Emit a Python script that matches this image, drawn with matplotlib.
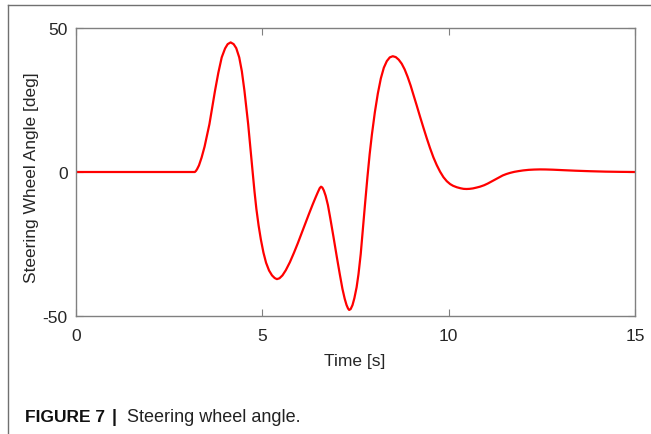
import matplotlib
matplotlib.use('Agg')
from matplotlib import pyplot as plt
from matplotlib.lines import Line2D

plt.rcParams['font.family'] = ['Liberation Sans', 'DejaVu Sans']
plt.rcParams['axes.unicode_minus'] = False

# values (time [s], steering wheel angle [deg])
time_s = [0.0, 3.19, 3.22, 3.25, 3.30, 3.37, 3.45, 3.58, 3.73, 3.82, 3.91,
          4.00, 4.07, 4.15, 4.23, 4.30, 4.38, 4.45, 4.52, 4.62, 4.74, 4.79,
          4.84, 4.90, 4.96, 5.03, 5.10, 5.18, 5.26, 5.33, 5.39, 5.46, 5.54,
          5.63, 5.74, 5.85, 5.95, 6.05, 6.15, 6.25, 6.35, 6.43, 6.49, 6.54,
          6.575, 6.61, 6.65, 6.70, 6.76, 6.82, 6.91, 7.00, 7.08, 7.15, 7.21,
          7.26, 7.30, 7.33, 7.37, 7.42, 7.47, 7.53, 7.58, 7.64, 7.70, 7.76,
          7.82, 7.88, 7.94, 8.02, 8.10, 8.18, 8.26, 8.34, 8.42, 8.50, 8.58,
          8.66, 8.74, 8.82, 8.90, 8.98, 9.05, 9.14, 9.23, 9.32, 9.41, 9.50,
          9.59, 9.68, 9.77, 9.86, 9.95, 10.04, 10.12, 10.22, 10.32, 10.40,
          10.48, 10.56, 10.65, 10.75, 10.84, 10.95, 11.05, 11.15, 11.25,
          11.35, 11.45, 11.55, 11.65, 11.76, 11.87, 12.00, 12.15, 12.30,
          12.45, 12.60, 12.80, 13.10, 13.40, 13.80, 14.20, 14.60, 15.0]
angle_deg = [0.0, 0.0, 0.4, 1.0, 2.3, 5.0, 8.8, 16.6, 28.2, 34.5, 39.8,
             42.9, 44.4, 45.0, 44.4, 43.0, 39.8, 35.0, 28.2, 16.6, 0.0, -6.8,
             -12.8, -18.6, -23.4, -28.0, -31.5, -34.2, -35.9, -36.8, -37.2,
             -36.9, -35.9, -34.1, -31.3, -28.0, -24.8, -21.4, -18.0, -14.6,
             -11.3, -8.8, -7.0, -5.6, -5.1, -5.4, -6.4, -8.3, -11.5, -15.8,
             -22.6, -29.6, -35.6, -40.6, -44.0, -46.2, -47.4, -47.9, -47.6,
             -46.2, -43.8, -40.0, -35.5, -28.5, -19.5, -10.5, -1.8, 6.2, 13.0,
             20.8, 27.3, 32.5, 36.2, 38.5, 39.8, 40.2, 39.9, 39.0, 37.6, 35.6,
             33.0, 30.0, 27.0, 23.2, 19.3, 15.5, 11.8, 8.3, 5.1, 2.4, 0.1,
             -1.8, -3.2, -4.2, -4.8, -5.3, -5.65, -5.85, -5.9, -5.85, -5.7,
             -5.4, -5.1, -4.6, -4.0, -3.3, -2.6, -1.9, -1.2, -0.7, -0.3, 0.05,
             0.3, 0.55, 0.75, 0.85, 0.9, 0.88, 0.8, 0.62, 0.45, 0.27, 0.13,
             0.05, 0.0]

xticks = [0, 5, 10, 15]
yticks = [-50, 0, 50]

fig = plt.figure(figsize=(6.51, 4.35), dpi=100)
ax = fig.add_axes([76/651, 1 - 317/435, (635 - 76)/651, (317 - 29)/435])

ax.plot(time_s, angle_deg, color='red', linewidth=1.6)

ax.set_xlim(0, 15)
ax.set_ylim(-50, 50)
ax.set_xticks(xticks)
ax.set_yticks(yticks)
ax.tick_params(direction='in', length=5, width=0.8, color='#808080',
               labelcolor='#262626', labelsize=12.5, top=True, right=True)
ax.tick_params(axis='x', pad=9)
ax.tick_params(axis='y', pad=6)
for s in ax.spines.values():
    s.set_color('#808080')
    s.set_linewidth(1.0)

ax.set_xlabel('Time [s]', fontsize=12.5, color='#262626')
ax.set_ylabel('Steering Wheel Angle [deg]', fontsize=12.5, color='#262626')
ax.xaxis.set_label_coords(0.499, -0.13)
ax.yaxis.set_label_coords(-0.066, 0.483)

# page frame lines
fig.add_artist(Line2D([8/651, 1], [1 - 6/435, 1 - 6/435], color='#707070',
                      linewidth=1.0))
fig.add_artist(Line2D([8/651, 8/651], [0, 1 - 6/435], color='#707070',
                      linewidth=1.0))

fig.text(25/651, 1 - 422/435, 'FIGURE 7', fontsize=12.5, fontweight='bold',
         color='#111111', va='baseline')
fig.text(112/651, 1 - 422/435, '|', fontsize=13, fontweight='bold',
         color='#111111', va='baseline')
fig.text(127/651, 1 - 422/435, 'Steering wheel angle.', fontsize=13,
         color='#222222', va='baseline')

fig.savefig('out.png', dpi=100)
